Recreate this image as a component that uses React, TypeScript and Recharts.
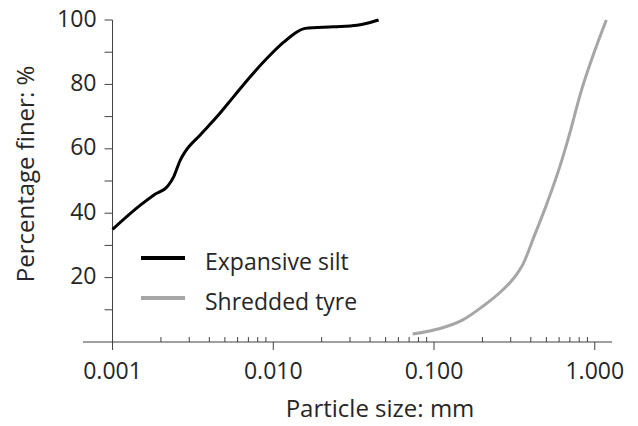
import { LineChart, Line, XAxis, YAxis, ReferenceLine, Legend } from "recharts";

// particle size (mm) and percentage finer
const siltSize = [0.001, 0.00149, 0.0018, 0.00221, 0.0024, 0.00264, 0.00283, 0.00351, 0.00447, 0.00567, 0.00719, 0.00914, 0.0116, 0.0134, 0.0158, 0.0237, 0.0332, 0.0383, 0.0452];
const siltFiner = [35.0, 42.5, 45.6, 48.5, 51.3, 56.5, 59.1, 64.3, 70.0, 76.2, 82.4, 88.1, 93.1, 95.6, 97.4, 97.9, 98.4, 99.0, 100];
const tyreSize = [0.0736, 0.109, 0.15, 0.2, 0.265, 0.313, 0.361, 0.417, 0.504, 0.611, 0.705, 0.813, 0.984, 1.18];
const tyreFiner = [2.5, 4.2, 6.8, 11.0, 16.0, 19.8, 24.6, 32.5, 43.0, 55.0, 65.5, 77.0, 89.5, 100];

const xMajorTicks = [0.001, 0.01, 0.1, 1];
const xMinorTicks = [
  0.002, 0.003, 0.004, 0.005, 0.006, 0.007, 0.008, 0.009,
  0.02, 0.03, 0.04, 0.05, 0.06, 0.07, 0.08, 0.09,
  0.2, 0.3, 0.4, 0.5, 0.6, 0.7, 0.8, 0.9,
];
const yTicks = [10, 20, 30, 40, 50, 60, 70, 80, 90, 100];
const yLabelled = [20, 40, 60, 80, 100];

const X_DOMAIN: [number, number] = [0.000655, 1.28];
const Y_AXIS_AT = 0.001;

const W = 638;
const H = 426;
const MARGIN = { top: 20, right: 26, bottom: 34, left: 23 };
const Y_AXIS_W = 60;
const X_AXIS_H = 50;
const PLOT_W = W - MARGIN.left - MARGIN.right - Y_AXIS_W;

// pixel offset of the 0.001 line from the left edge of the plot
const lg = Math.log10;
const Y_AXIS_OFFSET = (PLOT_W * (lg(Y_AXIS_AT) - lg(X_DOMAIN[0]))) / (lg(X_DOMAIN[1]) - lg(X_DOMAIN[0]));

const FONT = "'Open Sans', 'Noto Sans', sans-serif";
const TEXT = "#262626";
const AXIS = "#404040";
const TICK_FS = 23;
const TITLE_FS = 24;
const WEIGHT = 400;

const series = [
  { name: "Expansive silt", color: "#000000", width: 3, size: siltSize, finer: siltFiner },
  { name: "Shredded tyre", color: "#a6a6a6", width: 3, size: tyreSize, finer: tyreFiner },
];

const XTick = ({ x, y, payload }: any) => {
  const v = payload.value;
  if (!xMajorTicks.includes(v)) {
    return <line x1={x} x2={x} y1={y} y2={y - 5} stroke={AXIS} />;
  }
  return (
    <g>
      <line x1={x} x2={x} y1={y} y2={y + 8} stroke={AXIS} />
      <text x={x} y={y + 37} textAnchor="middle" fontSize={TICK_FS} fontWeight={WEIGHT} fill={TEXT} fontFamily={FONT}>
        {v.toFixed(3)}
      </text>
    </g>
  );
};

const YTick = ({ x, y, payload }: any) => {
  const ax = x + Y_AXIS_OFFSET;
  const v = payload.value;
  return (
    <g>
      <line x1={ax - 8} x2={ax} y1={y} y2={y} stroke={AXIS} />
      {yLabelled.includes(v) && (
        <text x={ax - 16} y={y} dy="0.29em" textAnchor="end" fontSize={TICK_FS} fontWeight={WEIGHT} fill={TEXT} fontFamily={FONT}>
          {v}
        </text>
      )}
    </g>
  );
};

const YTitle = () => (
  <text
    transform="translate(34,174) rotate(-90)"
    textAnchor="middle"
    fontSize={TITLE_FS}
    fontWeight={WEIGHT}
    fill={TEXT}
    fontFamily={FONT}
  >
    Percentage finer: %
  </text>
);

const XTitle = () => (
  <text x={380} y={417} textAnchor="middle" fontSize={TITLE_FS} fontWeight={WEIGHT} fill={TEXT} fontFamily={FONT}>
    Particle size: mm
  </text>
);

const LegendContent = () => (
  <div style={{ fontFamily: FONT, fontWeight: WEIGHT, fontSize: TICK_FS, color: TEXT }}>
    {series.map((s) => (
      <div key={s.name} style={{ display: "flex", alignItems: "center", height: 40 }}>
        <span style={{ display: "inline-block", width: 44, height: s.width + 1, background: s.color, marginRight: 20 }} />
        <span style={{ position: "relative", top: 3, whiteSpace: "nowrap" }}>{s.name}</span>
      </div>
    ))}
  </div>
);

export default function App() {
  return (
    <div style={{ position: "absolute", left: 0, top: 0, background: "#fff" }}>
      <LineChart width={W} height={H} margin={MARGIN}>
        <XAxis
          type="number"
          dataKey="size"
          scale="log"
          domain={X_DOMAIN}
          allowDataOverflow
          ticks={[...xMajorTicks, ...xMinorTicks]}
          interval={0}
          tick={<XTick />}
          tickLine={false}
          tickSize={0}
          tickMargin={0}
          height={X_AXIS_H}
          axisLine={{ stroke: AXIS }}
          label={<XTitle />}
        />
        <YAxis
          type="number"
          domain={[0, 100]}
          ticks={yTicks}
          interval={0}
          tick={<YTick />}
          tickLine={false}
          tickSize={0}
          tickMargin={0}
          axisLine={false}
          width={Y_AXIS_W}
          label={<YTitle />}
        />
        <ReferenceLine x={Y_AXIS_AT} stroke={AXIS} />
        <Legend
          layout="vertical"
          align="center"
          verticalAlign="middle"
          content={<LegendContent />}
          wrapperStyle={{ position: "absolute", left: 141, top: 238, width: "auto", height: "auto" }}
        />
        {series.map((s) => (
          <Line
            key={s.name}
            name={s.name}
            data={s.size.map((size, i) => ({ size, finer: s.finer[i] }))}
            dataKey="finer"
            type="monotone"
            stroke={s.color}
            strokeWidth={s.width}
            dot={false}
            isAnimationActive={false}
          />
        ))}
      </LineChart>
    </div>
  );
}
